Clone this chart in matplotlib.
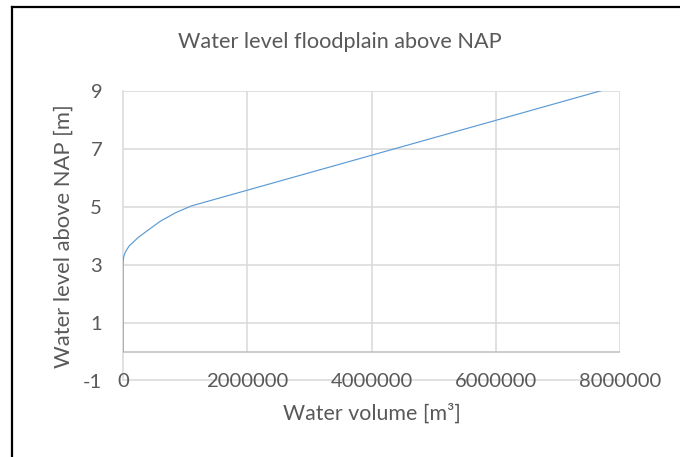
import matplotlib
matplotlib.use("Agg")
import matplotlib.pyplot as plt
from matplotlib.lines import Line2D

plt.rcParams['font.family'] = ['Lato', 'DejaVu Sans']

# data
volume = [0, 0, 1000, 5000, 15000, 40000, 100000, 250000, 420000, 600000, 850000, 1100000, 7730000]
level = [0, 2.9, 3.05, 3.18, 3.3, 3.45, 3.65, 3.95, 4.22, 4.5, 4.8, 5.03, 9.03]
xticks = [0, 2000000, 4000000, 6000000, 8000000]
xticklabels = ["0", "2000000", "4000000", "6000000", "8000000"]
yticks = [-1, 1, 3, 5, 7, 9]
yticklabels = ["-1", "1", "3", "5", "7", "9"]
title = "Water level floodplain above NAP"
xlabel = "Water volume [m³]"
ylabel = "Water level above NAP [m]"

TXT = "#595959"
GRID = "#D9D9D9"
BLUE = "#5B9BD5"

fig = plt.figure(figsize=(6.8, 4.57), dpi=100)
ax = fig.add_axes([123 / 680, 1 - 380.5 / 457, (620 - 123) / 680, (380.5 - 91) / 457])

ax.set_xlim(xticks[0], xticks[-1])
ax.set_ylim(yticks[0], yticks[-1])

# horizontal gridlines
for yv in yticks:
    ax.axhline(yv, color=GRID, lw=1.1, zorder=0)
# vertical gridlines (only above the category axis at 0)
ax.vlines(xticks[1:], 0, yticks[-1], color=GRID, lw=1.1, zorder=0)
# horizontal axis line at 0
ax.axhline(0, color="#BFBFBF", lw=1.1, zorder=1)

ax.plot(volume, level, color=BLUE, lw=0.85, zorder=3)

for s in ["top", "right", "bottom"]:
    ax.spines[s].set_visible(False)
ax.spines["left"].set_color(GRID)
ax.spines["left"].set_linewidth(1.1)
ax.spines["left"].set_zorder(0)

ax.set_xticks(xticks)
ax.set_xticklabels(xticklabels)
ax.set_yticks(yticks)
ax.set_yticklabels(yticklabels)
ax.tick_params(axis="both", length=0, colors=TXT, labelsize=14.6)
ax.tick_params(axis="x", pad=-5.5)
ax.tick_params(axis="y", pad=15)

ax.set_xlabel(xlabel, color=TXT, fontsize=15.4, labelpad=10)
ax.set_ylabel(ylabel, color=TXT, fontsize=15.8, labelpad=7)
fig.text(0.5, 1 - 42 / 457, title, color=TXT, fontsize=15.6, ha="center", va="center")

# chart border (top and left visible)
fig.add_artist(Line2D([12 / 680, 12 / 680], [0, 1 - 6.5 / 457], transform=fig.transFigure, color="black", lw=1.6))
fig.add_artist(Line2D([12 / 680, 1], [1 - 6.5 / 457, 1 - 6.5 / 457], transform=fig.transFigure, color="black", lw=1.6))

fig.savefig("out.png", dpi=100)
